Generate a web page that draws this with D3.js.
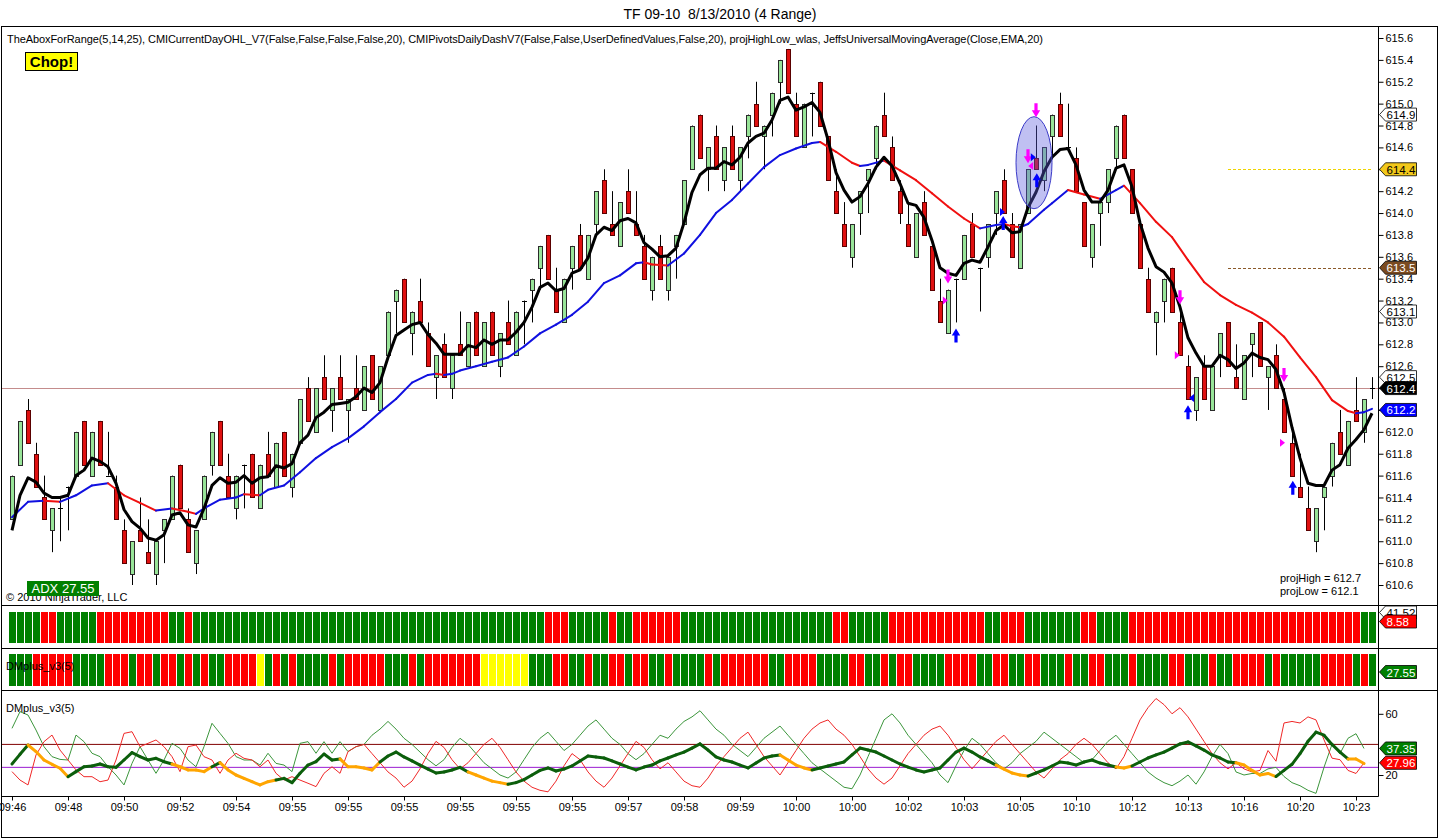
<!DOCTYPE html>
<html><head><meta charset="utf-8">
<script src="https://cdn.jsdelivr.net/npm/d3@7"></script>
<style>
body{margin:0;background:#fff}
svg{display:block}
text{font-family:"Liberation Sans",Arial,sans-serif;white-space:pre}
</style>
</head><body>
<svg id="c" width="1440" height="840"></svg>
<script>
// ---------------- DATA ----------------
const openP=[611.2,611.7,612.2,611.8,611.4,611.1,611.3,611.5,611.6,612.1,
611.6,612.1,611.6,611.5,611.1,610.7,611.1,610.9,610.7,611.1,
611.2,611.7,611.2,610.8,611.2,611.7,612.1,611.6,611.3,611.7,
611.8,611.3,611.8,611.5,612.0,611.5,611.9,612.4,612.0,612.5,
612.2,612.5,612.2,612.4,612.2,612.7,612.2,612.7,613.2,613.4,
612.9,613.2,612.9,612.5,612.8,612.4,612.8,612.6,613.1,612.6,
613.1,612.6,613.0,612.7,613.2,613.3,613.5,613.8,613.3,613.0,
613.5,613.8,613.4,613.9,614.3,613.9,613.7,614.2,613.9,613.7,
613.3,613.7,613.3,613.7,613.9,614.4,614.9,614.4,614.7,614.3,
614.7,614.3,614.7,615.0,614.7,614.9,615.2,615.5,615.0,614.6,
615.1,615.2,614.7,614.2,613.9,613.6,614.0,614.3,614.5,614.9,
614.6,614.2,613.9,613.6,614.1,613.7,613.2,612.9,613.4,613.4,
613.9,613.5,613.6,614.0,614.3,613.9,613.5,614.0,614.5,614.3,
614.7,615.0,614.6,614.5,614.1,613.6,614.0,614.1,614.5,614.9,
614.4,613.9,613.4,613.0,613.2,613.5,613.0,612.6,612.2,612.6,
612.2,612.7,613.0,612.5,612.3,612.8,613.0,612.5,612.7,612.3,
611.9,611.5,611.3,611.0,611.4,611.6,612.0,611.7,612.2,612.0,
612.4];
const highP=[611.6,612.1,612.3,611.9,611.6,611.3,611.4,611.5,612.0,612.1,
612.0,612.1,612.0,611.6,611.2,611.0,611.4,611.2,611.0,611.2,
611.6,611.7,611.3,611.1,611.6,612.0,612.1,611.8,611.6,611.7,
611.8,611.7,612.0,611.9,612.0,611.8,612.3,612.5,612.4,612.7,
612.4,612.7,612.3,612.7,612.6,612.7,612.6,613.1,613.3,613.4,
613.1,613.4,613.0,612.7,612.9,612.7,613.1,613.0,613.1,613.0,
613.1,612.9,613.2,613.1,613.2,613.4,613.7,613.8,613.5,613.4,
613.7,613.9,613.8,614.2,614.4,614.2,614.1,614.4,614.2,613.8,
613.6,613.8,613.6,613.8,614.3,614.8,614.9,614.6,614.8,614.6,
614.8,614.6,614.9,615.2,614.8,615.1,615.4,615.5,615.1,615.0,
615.1,615.2,614.7,614.4,614.1,613.9,614.2,614.4,614.8,615.1,
614.7,614.3,614.1,614.0,614.2,613.7,613.4,613.3,613.4,613.8,
614.0,613.5,613.9,614.2,614.4,614.0,613.9,614.4,614.8,614.6,
614.9,615.1,615.0,614.6,614.1,613.9,614.1,614.4,614.8,614.9,
614.4,613.9,613.5,613.1,613.4,613.5,613.1,612.7,612.5,612.7,
612.6,612.9,613.0,612.8,612.7,612.9,613.0,612.6,612.8,612.4,
612.0,611.8,611.5,611.3,611.5,611.9,612.2,612.1,612.5,612.3,
612.5];
const lowP=[611.2,611.7,611.9,611.5,611.2,610.9,611.0,611.1,611.6,611.7,
611.6,611.7,611.6,611.2,610.8,610.6,611.0,610.8,610.6,610.8,
611.2,611.3,610.9,610.7,611.2,611.6,611.7,611.4,611.2,611.3,
611.4,611.3,611.6,611.5,611.6,611.4,611.9,612.1,612.0,612.3,
612.0,612.3,611.9,612.3,612.2,612.3,612.2,612.7,612.9,613.0,
612.7,613.0,612.6,612.3,612.5,612.3,612.7,612.6,612.7,612.6,
612.7,612.5,612.8,612.7,612.8,613.0,613.3,613.4,613.1,613.0,
613.3,613.5,613.4,613.8,614.0,613.8,613.7,614.0,613.8,613.4,
613.2,613.4,613.2,613.4,613.9,614.4,614.5,614.2,614.4,614.2,
614.4,614.2,614.5,614.8,614.4,614.7,615.0,615.1,614.7,614.6,
614.7,614.8,614.3,614.0,613.7,613.5,613.8,614.0,614.4,614.7,
614.3,613.9,613.7,613.6,613.8,613.3,613.0,612.9,613.0,613.4,
613.6,613.1,613.5,613.8,614.0,613.6,613.5,614.0,614.4,614.2,
614.5,614.7,614.6,614.2,613.7,613.5,613.7,614.0,614.4,614.5,
614.0,613.5,613.1,612.7,613.0,613.1,612.7,612.3,612.1,612.3,
612.2,612.5,612.6,612.4,612.3,612.5,612.6,612.2,612.4,612.0,
611.6,611.4,611.1,610.9,611.1,611.5,611.8,611.7,612.1,611.9,
612.3];
const closeP=[611.6,612.1,611.9,611.5,611.2,611.3,611.3,611.5,612.0,611.7,
612.0,611.7,611.6,611.2,610.8,611.0,611.0,610.8,611.0,611.2,
611.6,611.3,610.9,611.1,611.6,612.0,611.7,611.4,611.6,611.7,
611.4,611.7,611.6,611.9,611.6,611.8,612.3,612.1,612.4,612.3,
612.4,612.3,612.3,612.3,612.6,612.3,612.6,613.1,613.3,613.0,
613.1,613.0,612.6,612.7,612.5,612.7,612.7,613.0,612.7,613.0,
612.7,612.9,612.8,613.1,613.2,613.4,613.7,613.4,613.1,613.4,
613.7,613.5,613.8,614.2,614.0,613.8,614.1,614.0,613.8,613.4,
613.6,613.4,613.6,613.8,614.3,614.8,614.5,614.6,614.4,614.6,
614.4,614.6,614.9,614.8,614.8,615.1,615.4,615.1,614.7,615.0,
615.1,614.8,614.3,614.0,613.7,613.9,614.2,614.4,614.8,614.7,
614.3,614.0,613.7,614.0,613.8,613.3,613.0,613.3,613.4,613.8,
613.6,613.5,613.9,614.2,614.0,613.6,613.9,614.4,614.4,614.6,
614.9,614.7,614.6,614.2,613.7,613.9,614.1,614.4,614.8,614.5,
614.0,613.5,613.1,613.1,613.4,613.1,612.7,612.3,612.5,612.3,
612.6,612.9,612.6,612.4,612.7,612.9,612.6,612.6,612.4,612.0,
611.6,611.4,611.1,611.3,611.5,611.9,611.8,612.1,612.1,612.3,
612.4];
// fast black average (one value per bar)
const fastAvg=[611.1,611.42,611.58,611.54,611.44,611.4,611.4,611.42,611.6,611.65,
611.76,611.73,611.68,611.53,611.29,611.18,611.12,611.03,611.01,611.06,
611.24,611.26,611.15,611.13,611.3,611.51,611.58,611.53,611.54,611.6,
611.53,611.58,611.59,611.69,611.67,611.71,611.9,611.97,612.13,612.18,
612.25,612.26,612.27,612.32,612.4,612.36,612.45,612.68,612.88,612.93,
612.98,613.0,612.89,612.81,612.71,612.71,612.71,612.79,612.77,612.84,
612.8,612.84,612.84,612.91,613.0,613.14,613.32,613.36,613.29,613.31,
613.45,613.48,613.59,613.8,613.87,613.84,613.93,613.95,613.91,613.73,
613.67,613.6,613.61,613.68,613.91,614.19,614.35,614.41,614.41,614.47,
614.44,614.51,614.64,614.7,614.73,614.85,615.03,615.06,614.94,614.97,
615.01,614.92,614.67,614.37,614.21,614.1,614.15,614.27,614.42,614.51,
614.43,614.27,614.09,614.07,613.96,613.75,613.5,613.45,613.43,613.54,
613.57,613.55,613.69,613.84,613.89,613.82,613.83,614.05,614.19,614.38,
614.51,614.58,614.59,614.44,614.21,614.1,614.1,614.21,614.41,614.44,
614.24,613.91,613.68,613.51,613.46,613.36,613.14,612.86,612.72,612.6,
612.6,612.7,612.66,612.58,612.63,612.72,612.68,612.66,612.57,612.36,
612.04,611.76,611.53,611.51,611.51,611.65,611.7,611.85,611.93,612.02,
612.17];
// EMA(20) read at sampled bars
const emaIdx=[0,2,4,6,8,10,12,14,16,18,20,22,23,24,26,28,29,31,32,34,36,38,40,42,44,46,48,50,52,53,54,55,56,58,60,62,64,66,68,70,72,74,76,78,79,80,82,84,86,88,90,92,94,96,98,100,101,103,105,106,107,109,111,113,115,117,119,121,123,124,125,126,127,129,130,132,134,136,138,139,141,143,145,147,149,151,153,155,157,159,161,163,165,167,168,169,170];
const emaVal=[611.22,611.36,611.37,611.36,611.42,611.51,611.53,611.42,611.35,611.28,611.3,611.27,611.25,611.3,611.38,611.4,611.43,611.42,611.47,611.51,611.63,611.76,611.86,611.94,612.05,612.18,612.3,612.45,612.52,612.53,612.52,612.53,612.56,612.6,612.64,612.68,612.78,612.9,612.98,613.07,613.19,613.36,613.43,613.54,613.55,613.53,613.52,613.63,613.8,614.0,614.12,614.27,614.42,614.53,614.59,614.64,614.65,614.56,614.46,614.43,614.44,614.48,614.39,614.3,614.18,614.06,613.95,613.86,613.89,613.9,613.88,613.87,613.9,614.03,614.09,614.21,614.17,614.13,614.21,614.25,614.09,613.92,613.78,613.57,613.37,613.25,613.16,613.09,613.0,612.87,612.68,612.5,612.29,612.19,612.17,612.18,612.21];

const priceTicks=[615.6,615.4,615.2,615.0,614.8,614.6,614.4,614.2,614.0,613.8,613.6,613.4,613.2,613.0,612.8,612.6,612.4,612.2,612.0,611.8,611.6,611.4,611.2,611.0,610.8,610.6];
const dmTicks=[20,60];
const timeTickIdx=[0,7,14,21,28,35,42,49,56,63,70,77,84,91,98,105,112,119,126,133,140,147,154,161,168];
const timeLabels=["09:46","09:48","09:50","09:52","09:54","09:55","09:55","09:55","09:55","09:55","09:55","09:57","09:58","09:59","10:00","10:00","10:02","10:03","10:05","10:10","10:12","10:13","10:16","10:20","10:23"];

// signal markers (bar index, price)
const sellArrowIdx=[128,127,117,146,159];
const sellArrowPrice=[614.94,614.52,613.42,613.23,612.52];
const buyArrowIdx=[118,128.1,123.9,147,160.1];
const buyArrowPrice=[612.88,614.30,613.91,612.18,611.49];
const pinkTriIdx=[116.6,145.6,158.75];
const pinkTriPrice=[613.2,612.7,611.9];
const blueTriIdx=[123.75,127.6];
const blueTriPrice=[614.01,614.51];

// indicator colour runs (G=green, R=red, Y=yellow)
const trendRuns=[["G",4],["R",2],["G",5],["R",9],["G",2],["R",1],["G",44],["R",3],["G",5],["R",1],["G",2],["R",6],["G",19],["R",2],["G",5],["R",12],["G",2],["R",3],["G",7],["R",2],["G",4],["R",29],["G",2]];
const dmRuns=[["G",3],["R",5],["G",4],["R",3],["G",1],["R",2],["G",1],["R",2],["G",1],["R",1],["G",1],["R",1],["G",2],["R",4],["Y",1],["G",1],["R",1],["G",1],["R",1],["G",4],
["R",1],["G",1],["R",5],["G",3],["R",1],["G",1],["R",7],["Y",6],["G",3],["R",2],["G",2],["R",1],["G",2],["R",2],["G",1],["R",2],["G",2],["R",1],["G",4],["R",1],["G",1],["R",6],["G",2],["R",4],["G",4],["R",2],["G",2],["R",1],["G",1],["R",2],["G",4],["R",4],["G",2],["R",2],["G",2],["R",2],["G",3],["R",1],["G",2],["R",2],["G",3],["R",1],["G",4],["R",2],["G",3],["R",1],["G",2],["R",4],["G",1],["R",1],["G",5],["R",4],["G",1],["R",1],["G",1]];

// DMplus_v3(5) lines
const diPlus=[50.5,61.4,59.2,49.4,38.5,32,30.2,29.8,46.1,41.8,34.2,32,25.4,20,13.5,27.6,38.5,29.8,21.1,29.8,40.7,37.4,29.8,25.4,38.5,53.8,47.2,40.7,32,29.8,29.8,26.5,34.2,27.6,26.5,22.2,40.7,41.8,34.2,41.8,34.2,41.8,35.3,38.5,
40,46,50,55,50,44,40,35,30,26,
30,38,44,40,34,28,24,20,18,22,
30,38,44,48,42,36,40,46,52,56,
50,44,40,34,30,34,40,46,44,50,
55,58,62,56,50,46,40,36,32,38,
44,48,52,46,40,34,28,24,20,16,
12,11,20,32,44,56,60,54,46,40,
34,28,20,15,26,36,44,40,34,28,
24,28,34,38,42,48,44,40,36,32,
28,30,36,42,46,40,34,28,22,18,
15,13,16,20,14,22,32,40,34,22,
20,21,21,24,25,19,15,13,10,8,
25,40,34,44,47,37.35];
const diMinus=[22.2,16.7,13.5,33.1,41.8,46.1,36.3,29.8,23.3,18.9,18.9,15.6,16.7,29.8,47.2,48.3,38.5,40.7,42.9,38.5,32,22.2,38.5,39.6,32,29.8,21.1,29.8,34.2,30.9,29.8,25.4,29.8,21.1,16.7,18.9,16.7,14.6,12.4,21.1,25.4,21.1,35.3,38.5,
40,34,28,22,18,12,16,24,34,42,
38,30,24,28,34,40,44,38,30,22,
16,12,10,9,16,26,34,30,22,16,
12,18,26,34,42,38,30,24,28,22,
16,13,12,18,26,32,38,44,48,40,
32,26,20,28,36,44,50,54,56,50,
46,40,32,24,18,14,18,26,34,40,
46,50,52,46,38,30,24,30,36,42,
46,40,34,28,22,18,24,30,34,40,
44,40,34,28,24,32,44,56,64,70,
66,60,64,58,50,42,34,28,24,28,
24,22,23,36,29,54,55,54,58,56,
43,31,30,23,21,27.96];
const adx=[27.2,33.5,39.6,35.3,29.8,27,24.4,18.9,22.2,25.4,25.9,27.2,25.4,25.0,29.8,34.6,32,29.8,30.9,28.7,27.2,25.4,23.3,23.3,22.2,25.4,28.1,23.3,20,17.8,15.6,13.5,15.6,16.7,17.8,15,21.1,26.5,28.7,33.7,29.8,30.5,25.4,25.4,
24.6,23.3,28.5,32.4,35.0,31.8,29.2,26.5,23.9,21.3,
22,23.3,25,22,20,18,16,15,14,15,
17,20,23,24.6,22.6,23.9,25.9,29.2,32.4,31.8,
31.1,29.2,27.2,25.2,23.3,25.2,26.5,29.2,31.1,33.1,
35.0,37.6,40.3,36.3,31.8,29.8,28.5,26.5,24.6,27.8,
31.1,32.4,33.1,29.8,26.5,24.6,23.3,24.6,25.9,27.2,
28.5,33.1,37.6,36.3,35.0,32.4,29.8,27.2,25.2,23.3,
22.0,23.3,24.6,29.8,35.0,37.6,35.0,31.8,29.2,26.5,
23.9,21.3,20,19.3,21.3,23.3,25.9,28.5,27.8,26.5,
28.5,29.8,27.8,26.5,25.2,24.6,25.9,28.5,31.1,33.1,
35.0,37.6,40.3,41.6,39.0,36.3,33.1,31.1,28.5,28,
26.5,23,20,21,19,23,27,34,42,48,
46,40,35,30.5,30.5,27.55];
const adxOrangeRanges=[[2,7],[20,25],[26,33],[41,46],[57,62],[96,100],[123,127],[138,140],[153,158],[167,169]];
const dmUpper=40, dmLower=25;

// ---------------- DRAWING ----------------
const svg=d3.select("#c");
const AX=1378.5;
const x=d3.scaleLinear().domain([0,170]).range([12,1372]);
const y=d3.scaleLinear().domain([610.6,615.6]).range([585,38]);
const yDM=d3.scaleLinear().domain([20,60]).range([775,713.8]);

// title
svg.append("text").attr("x",720).attr("y",19).attr("text-anchor","middle").attr("font-size",14)
  .text("TF 09-10  8/13/2010 (4 Range)");

// frame + panel separators
svg.append("rect").attr("x",1.5).attr("y",26.5).attr("width",1436).attr("height",811).attr("fill","none").attr("stroke","#000");
[605.5,648.5,690.5].forEach(v=>svg.append("line").attr("x1",1.5).attr("x2",1437.5).attr("y1",v).attr("y2",v).attr("stroke","#000"));
svg.append("line").attr("x1",AX).attr("x2",AX).attr("y1",26.5).attr("y2",796.5).attr("stroke","#000");
svg.append("line").attr("x1",1.5).attr("x2",AX).attr("y1",796.5).attr("y2",796.5).attr("stroke","#000");

// header
svg.append("text").attr("x",7).attr("y",43).attr("font-size",11)
  .attr("textLength",1036).attr("lengthAdjust","spacing")
  .text("TheAboxForRange(5,14,25), CMICurrentDayOHL_V7(False,False,False,False,20), CMIPivotsDailyDashV7(False,False,UserDefinedValues,False,20), projHighLow_wlas, JeffsUniversalMovingAverage(Close,EMA,20)");
svg.append("rect").attr("x",25.5).attr("y",52.5).attr("width",52).attr("height",18).attr("fill","#ffff00").attr("stroke","#000");
svg.append("text").attr("x",51.5).attr("y",67).attr("text-anchor","middle").attr("font-size",15).attr("font-weight","bold").text("Chop!");

// main clip
svg.append("clipPath").attr("id","mainClip").append("rect").attr("x",2).attr("y",27).attr("width",AX-2.5).attr("height",578);
const main=svg.append("g").attr("clip-path","url(#mainClip)");

// last price line
main.append("line").attr("x1",2).attr("x2",AX).attr("y1",Math.round(y(612.4))+0.5).attr("y2",Math.round(y(612.4))+0.5).attr("stroke","#c48c8c");
// pivot dashes
main.append("line").attr("x1",x(152)).attr("x2",x(170)).attr("y1",Math.round(y(614.4))+0.5).attr("y2",Math.round(y(614.4))+0.5).attr("stroke","#eed400").attr("stroke-dasharray","3,2");
main.append("line").attr("x1",x(152)).attr("x2",x(170)).attr("y1",Math.round(y(613.5))+0.5).attr("y2",Math.round(y(613.5))+0.5).attr("stroke","#8b5a2b").attr("stroke-dasharray","3,2");

// candles
const bars=d3.range(openP.length);
const cg=main.append("g");
bars.forEach(i=>{
  const cx=Math.round(x(i));
  cg.append("line").attr("x1",cx+0.5).attr("x2",cx+0.5).attr("y1",y(highP[i])).attr("y2",y(lowP[i])).attr("stroke","#000");
  const o=openP[i],c=closeP[i];
  if(Math.abs(o-c)<1e-6){
    cg.append("line").attr("x1",cx-2).attr("x2",cx+3).attr("y1",Math.round(y(o))+0.5).attr("y2",Math.round(y(o))+0.5).attr("stroke","#000");
  } else {
    const top=Math.round(y(Math.max(o,c))), bot=Math.round(y(Math.min(o,c)));
    cg.append("rect").attr("x",cx-1.5).attr("y",top+0.5).attr("width",4).attr("height",bot-top)
      .attr("fill",c>o?"#98e498":"#e01010").attr("stroke",c>o?"#2a2a2a":"#5a0000");
  }
});

// EMA 20 coloured
for(let k=0;k<emaIdx.length-1;k++){
  const up=emaVal[k+1]>=emaVal[k];
  main.append("line").attr("x1",x(emaIdx[k])).attr("y1",y(emaVal[k])).attr("x2",x(emaIdx[k+1])).attr("y2",y(emaVal[k+1]))
    .attr("stroke",up?"#1010e0":"#f01010").attr("stroke-width",2).attr("stroke-linecap","round");
}
// black fast average
main.append("path").datum(fastAvg).attr("fill","none").attr("stroke","#000").attr("stroke-width",3).attr("stroke-linejoin","round")
  .attr("d",d3.line().x((d,i)=>x(i)).y(d=>y(d)));

// ellipse annotation
main.append("ellipse").attr("cx",x(127.75)).attr("cy",y(614.46)).attr("rx",18).attr("ry",46)
  .attr("fill","rgba(90,90,220,0.38)").attr("stroke","#3a3ac8");

// arrows
function arrow(cx,cy,dir){ // dir 1 = down, -1 = up
  const s=dir;
  return `M${cx-1.6},${cy-7*s} L${cx+1.6},${cy-7*s} L${cx+1.6},${cy} L${cx+4.2},${cy} L${cx},${cy+7*s} L${cx-4.2},${cy} L${cx-1.6},${cy} Z`;
}
sellArrowIdx.forEach((d,k)=>main.append("path").attr("d",arrow(x(d),y(sellArrowPrice[k]),1)).attr("fill","#ff00ff"));
buyArrowIdx.forEach((d,k)=>main.append("path").attr("d",arrow(x(d),y(buyArrowPrice[k]),-1)).attr("fill","#0000ff"));
pinkTriIdx.forEach((d,k)=>{const cx=x(d),cy=y(pinkTriPrice[k]);
  main.append("path").attr("d",`M${cx-2},${cy-4} L${cx+3},${cy} L${cx-2},${cy+4} Z`).attr("fill","#ff00ff");});
blueTriIdx.forEach((d,k)=>{const cx=x(d),cy=y(blueTriPrice[k]);
  main.append("path").attr("d",`M${cx-2},${cy-4} L${cx+3},${cy} L${cx-2},${cy+4} Z`).attr("fill","#0000ff");});
{const cx=x(147.5),cy=y(612.31);main.append("path").attr("d",`M${cx+2},${cy-4} L${cx-3},${cy} L${cx+2},${cy+4} Z`).attr("fill","#0000ff");}
{const cx=x(127.4),cy=y(614.43);main.append("path").attr("d",`M${cx+2},${cy-4} L${cx-3},${cy} L${cx+2},${cy+4} Z`).attr("fill","#ff00ff");}

// text overlays in main
svg.append("text").attr("x",6).attr("y",601).attr("font-size",11).text("© 2010 NinjaTrader, LLC");
svg.append("rect").attr("x",27).attr("y",581).attr("width",72).attr("height",15).attr("fill","#008000");
svg.append("text").attr("x",63).attr("y",593).attr("text-anchor","middle").attr("font-size",13).attr("fill","#fff").text("ADX 27.55");
svg.append("text").attr("x",1280).attr("y",582).attr("font-size",11).text("projHigh = 612.7");
svg.append("text").attr("x",1280).attr("y",595).attr("font-size",11).text("projLow = 612.1");

// right price axis
const ay=svg.append("g").attr("transform",`translate(${AX},0)`)
  .call(d3.axisRight(y).tickValues(priceTicks).tickFormat(d3.format(".1f")).tickSize(5).tickSizeOuter(0));
ay.select(".domain").remove();
ay.selectAll("text").attr("font-size",11).attr("font-family","Liberation Sans, Arial").attr("fill","#000").attr("x",7);
ay.selectAll("line").attr("stroke","#000");

// value tags
function tag(cy,label,fill,tc){
  const g=svg.append("g");
  const x0=AX+1;
  g.append("path").attr("d",`M${x0},${cy} L${x0+6},${cy-6.5} L${x0+37},${cy-6.5} L${x0+37},${cy+6.5} L${x0+6},${cy+6.5} Z`)
    .attr("fill",fill).attr("stroke","#000").attr("stroke-width",0.8);
  g.append("text").attr("x",x0+7).attr("y",cy+4.5).attr("font-size",11.5).attr("fill",tc).text(label);
}
tag(y(614.9),"614.9","#fff","#000");
tag(y(614.4),"614.4","#f2c81a","#000");
tag(y(613.5),"613.5","#7b4b20","#fff");
tag(y(613.1),"613.1","#fff","#000");
tag(y(612.5),"612.5","#fff","#000");
tag(y(612.4),"612.4","#000","#fff");
tag(y(612.2),"612.2","#0000ff","#fff");

// ---- colour strip panels
function expand(runs){const out=[];runs.forEach(([c,n])=>{for(let k=0;k<n;k++)out.push(c);});return out;}
const colMap={G:"#008000",R:"#ff0000",Y:"#ffff00"};
const trend=expand(trendRuns), dm=expand(dmRuns);
trend.forEach((c,i)=>svg.append("rect").attr("x",Math.round(x(i))-3).attr("y",612).attr("width",7).attr("height",31).attr("fill",colMap[c]));
dm.forEach((c,i)=>svg.append("rect").attr("x",Math.round(x(i))-3).attr("y",654).attr("width",7).attr("height",32).attr("fill",colMap[c]));
svg.append("text").attr("x",6).attr("y",670).attr("font-size",11).text("DMplus_v3(5)");
tag(612.5,"41.52","#fff","#000");
tag(621.5,"8.58","#ff0000","#fff");
tag(672,"27.55","#008000","#fff");

// ---- DM panel
svg.append("clipPath").attr("id","dmClip").append("rect").attr("x",2).attr("y",691).attr("width",AX-2.5).attr("height",105);
const dmg=svg.append("g").attr("clip-path","url(#dmClip)");
dmg.append("line").attr("x1",2).attr("x2",AX).attr("y1",yDM(dmUpper)).attr("y2",yDM(dmUpper)).attr("stroke","#800000");
dmg.append("line").attr("x1",2).attr("x2",AX).attr("y1",yDM(dmLower)).attr("y2",yDM(dmLower)).attr("stroke","#9a1ad0");
const ln=d3.line().x((d,i)=>x(i)).y(d=>yDM(d));
dmg.append("path").datum(diPlus).attr("d",ln).attr("fill","none").attr("stroke","#3c963c").attr("stroke-width",1);
dmg.append("path").datum(diMinus).attr("d",ln).attr("fill","none").attr("stroke","#f02828").attr("stroke-width",1);
const isOrange=i=>adxOrangeRanges.some(([a,b])=>i>=a&&i<b);
for(let i=0;i<adx.length-1;i++){
  dmg.append("line").attr("x1",x(i)).attr("y1",yDM(adx[i])).attr("x2",x(i+1)).attr("y2",yDM(adx[i+1]))
    .attr("stroke",isOrange(i)?"#ffa500":"#0b5e0b").attr("stroke-width",3).attr("stroke-linecap","round");
}
svg.append("text").attr("x",6).attr("y",712).attr("font-size",11).text("DMplus_v3(5)");
const ady=svg.append("g").attr("transform",`translate(${AX},0)`)
  .call(d3.axisRight(yDM).tickValues(dmTicks).tickFormat(d3.format("d")).tickSize(5).tickSizeOuter(0));
ady.select(".domain").remove();
ady.selectAll("text").attr("font-size",11).attr("font-family","Liberation Sans, Arial").attr("fill","#000").attr("x",7);
tag(yDM(37.35),"37.35","#008000","#fff");
tag(yDM(27.96),"27.96","#ff0000","#fff");

// ---- time axis
const ax=svg.append("g").attr("transform","translate(0,796.5)")
  .call(d3.axisBottom(x).tickValues(timeTickIdx).tickFormat((d,i)=>timeLabels[i]).tickSize(4).tickSizeOuter(0));
ax.select(".domain").remove();
ax.selectAll("text").attr("font-size",11).attr("font-family","Liberation Sans, Arial").attr("fill","#000").attr("y",7);
ax.selectAll("line").attr("stroke","#000");
</script>
</body></html>
